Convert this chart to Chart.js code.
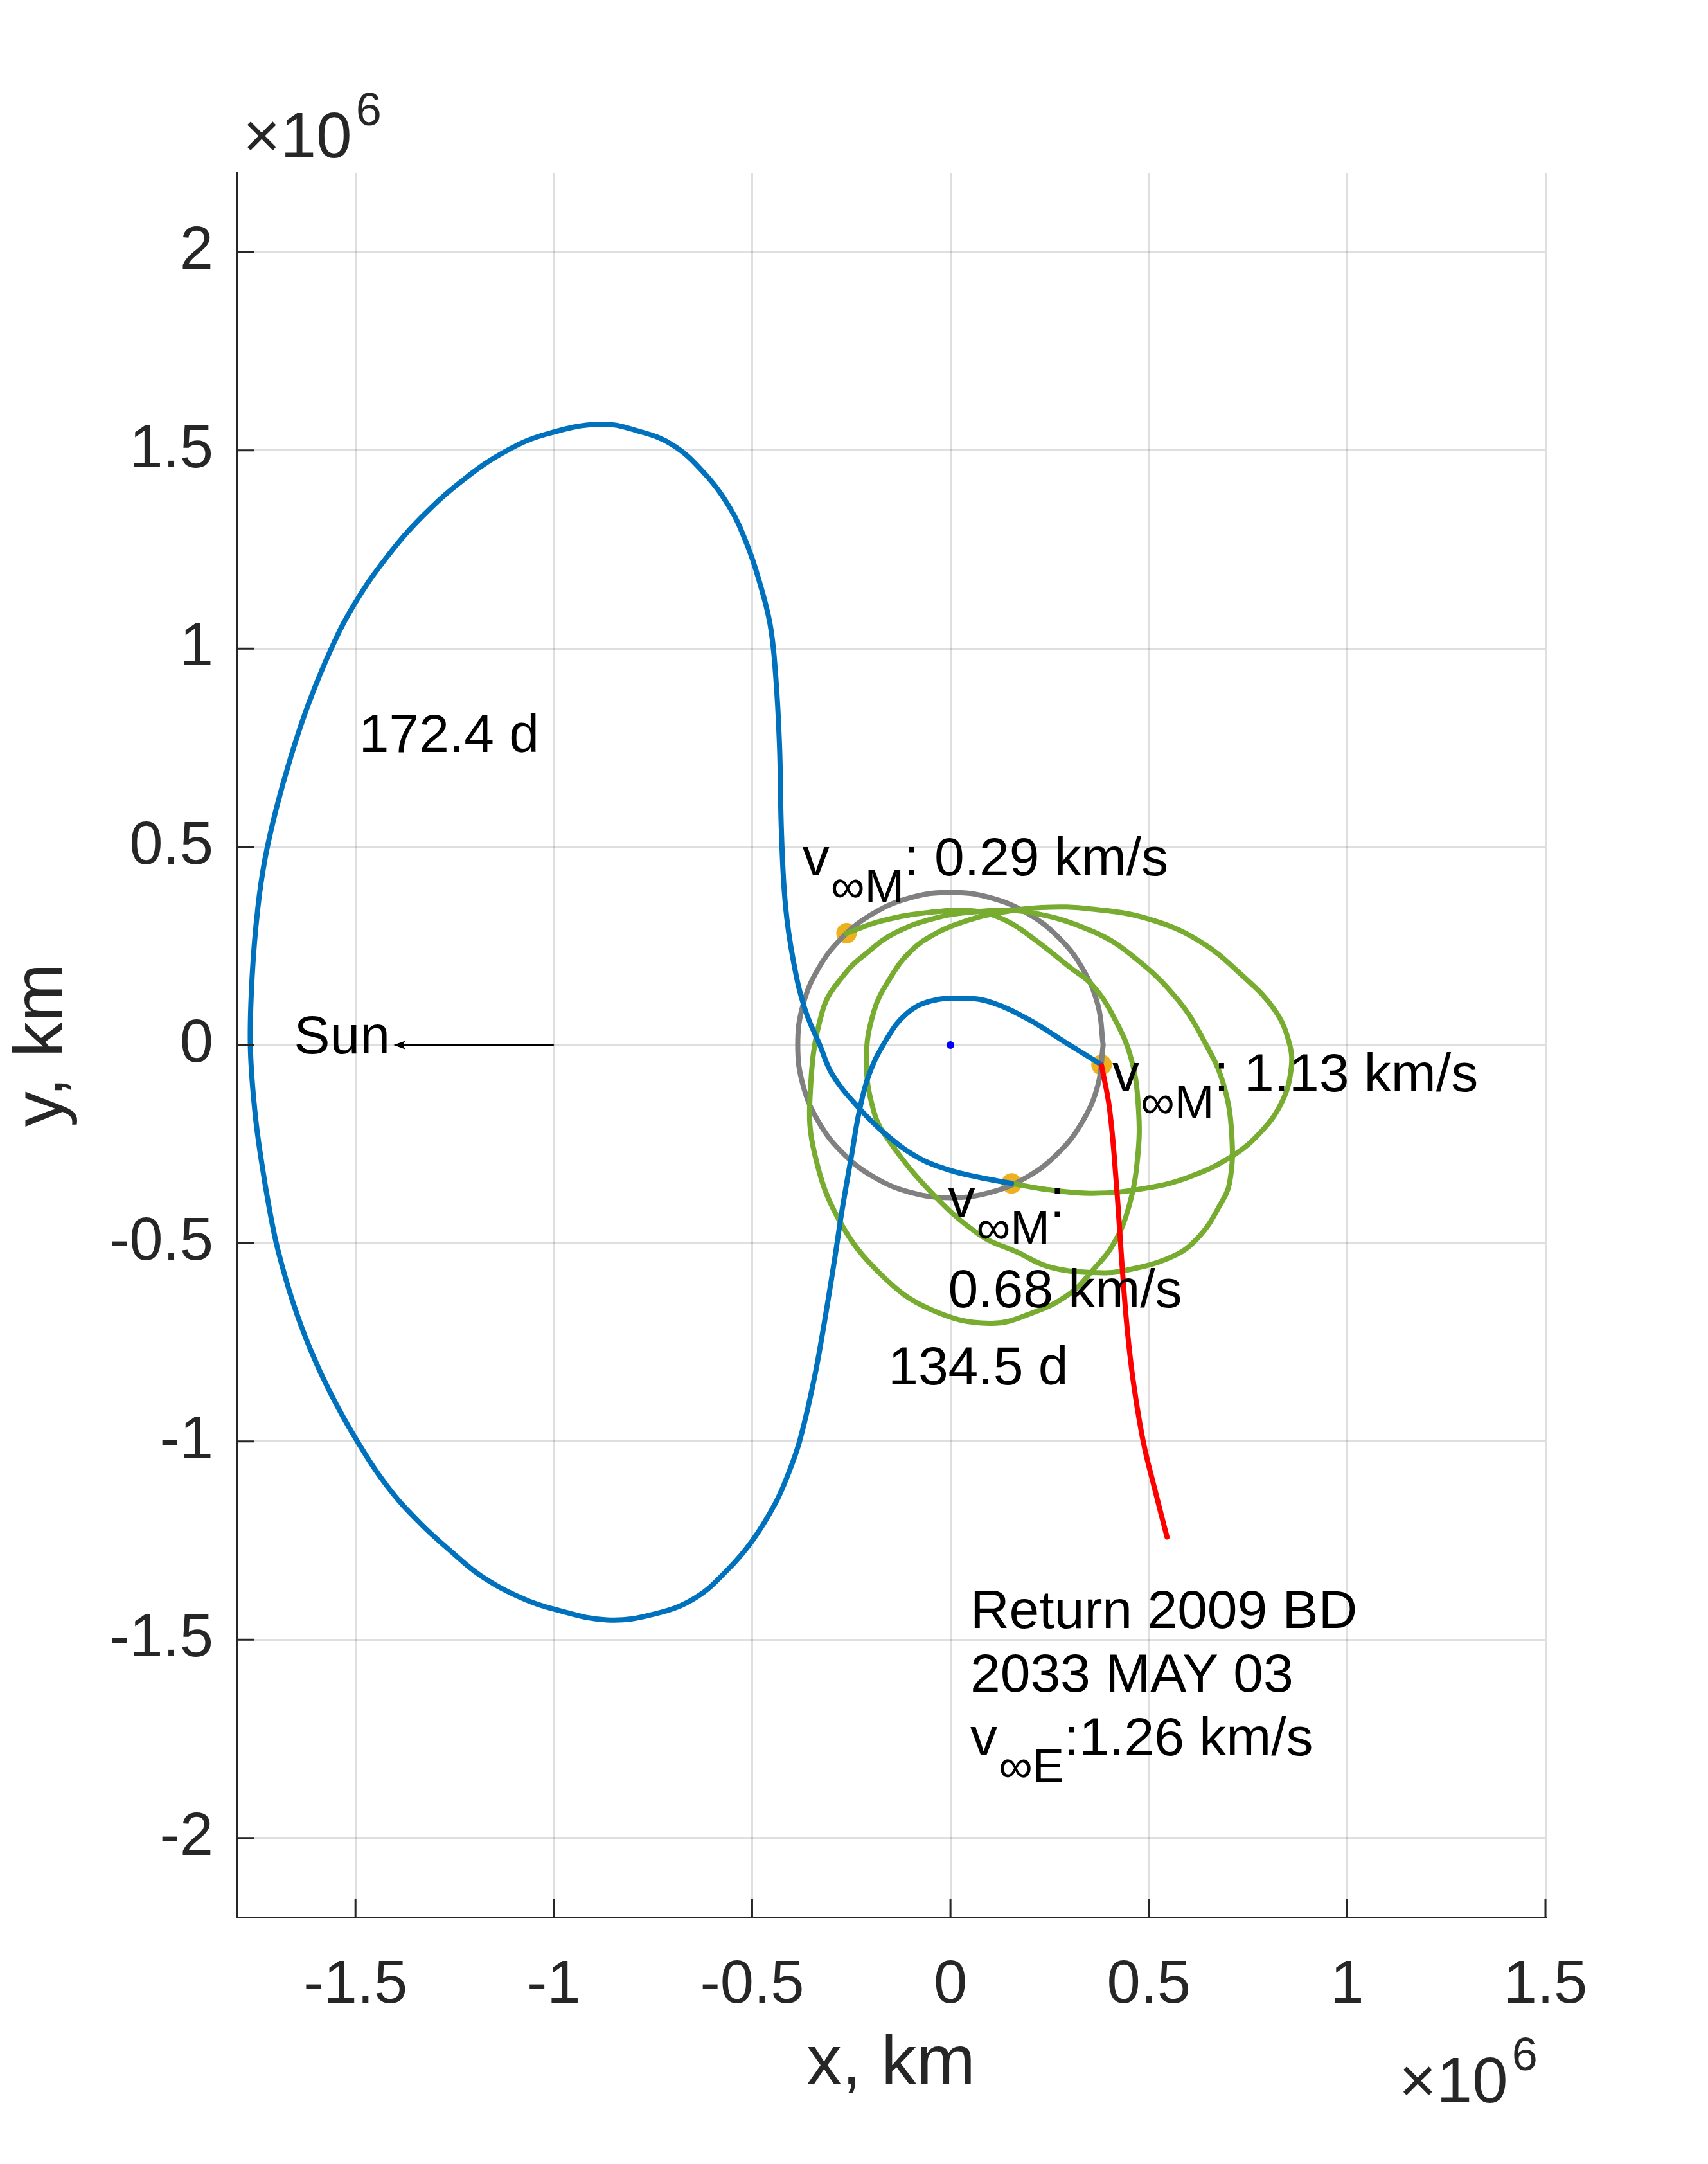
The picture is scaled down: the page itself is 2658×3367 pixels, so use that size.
<!DOCTYPE html>
<html>
<head>
<meta charset="utf-8">
<style>
  html, body { margin: 0; padding: 0; background: #fff; }
  #wrap { width: 2658px; height: 3367px; }
</style>
<script src="https://cdn.jsdelivr.net/npm/chart.js@4.4.0/dist/chart.umd.min.js"></script>
</head>
<body>
<div id="wrap"><canvas id="orbit"></canvas></div>
<script>
// all coordinates in units of 10^6 km, Mars at the origin
const xTicks = [-1.5, -1, -0.5, 0, 0.5, 1, 1.5];
const yTicks = [-2, -1.5, -1, -0.5, 0, 0.5, 1, 1.5, 2];

// blue transfer arc: Mars -> big loop round the Sun side -> back to Mars
const transferArc = [
  [0.378,-0.048],[0.291,0.006],[0.198,0.064],[0.105,0.107],[0.037,0.118],
  [-0.050,0.111],[-0.112,0.078],[-0.162,0.013],[-0.205,-0.074],[-0.230,-0.168],
  [-0.249,-0.276],[-0.274,-0.421],[-0.292,-0.540],[-0.323,-0.730],[-0.345,-0.849],
  [-0.380,-0.998],[-0.409,-1.082],[-0.442,-1.157],[-0.500,-1.251],[-0.563,-1.325],
  [-0.644,-1.395],[-0.745,-1.435],[-0.866,-1.450],[-1.000,-1.423],[-1.081,-1.395],
  [-1.182,-1.340],[-1.257,-1.279],[-1.338,-1.205],[-1.419,-1.114],[-1.501,-0.990],
  [-1.565,-0.874],[-1.614,-0.767],[-1.657,-0.651],[-1.695,-0.519],[-1.716,-0.419],
  [-1.738,-0.287],[-1.754,-0.163],[-1.765,0.000],[-1.760,0.181],[-1.746,0.347],
  [-1.728,0.470],[-1.700,0.595],[-1.663,0.727],[-1.619,0.859],[-1.560,1.002],
  [-1.501,1.115],[-1.420,1.232],[-1.331,1.334],[-1.229,1.425],[-1.121,1.498],
  [-1.019,1.541],[-0.882,1.566],[-0.788,1.549],[-0.701,1.514],[-0.622,1.444],
  [-0.556,1.355],[-0.513,1.263],[-0.484,1.177],[-0.455,1.063],[-0.441,0.937],
  [-0.431,0.756],[-0.426,0.534],[-0.416,0.353],[-0.396,0.212],[-0.367,0.091],
  [-0.329,-0.001],[-0.298,-0.074],[-0.236,-0.153],[-0.162,-0.226],[-0.081,-0.284],
  [-0.001,-0.316],[0.074,-0.334],[0.154,-0.349]
];

// green loops around Mars
const marsLoops = [
  [-0.262,0.282],[-0.174,0.313],[-0.050,0.335],[0.061,0.338],[0.140,0.314],
  [0.210,0.268],[0.304,0.194],[0.358,0.151],[0.412,0.070],[0.456,-0.036],
  [0.474,-0.160],[0.472,-0.283],[0.450,-0.407],[0.412,-0.500],[0.358,-0.569],
  [0.300,-0.628],[0.211,-0.674],[0.099,-0.702],[-0.050,-0.667],[-0.174,-0.580],
  [-0.280,-0.443],[-0.342,-0.276],[-0.354,-0.130],[-0.323,0.085],[-0.267,0.179],
  [-0.205,0.237],[-0.143,0.281],[-0.050,0.317],[0.060,0.336],[0.196,0.335],
  [0.358,0.287],[0.466,0.219],[0.574,0.113],[0.644,0.002],[0.688,-0.098],
  [0.709,-0.222],[0.704,-0.346],[0.677,-0.408],[0.628,-0.482],[0.563,-0.532],
  [0.439,-0.569],[0.358,-0.574],[0.250,-0.560],[0.167,-0.522],[0.074,-0.479],
  [-0.050,-0.370],[-0.156,-0.240],[-0.193,-0.168],[-0.212,-0.038],[-0.193,0.085],
  [-0.150,0.172],[-0.100,0.237],[-0.038,0.281],[0.030,0.310],[0.102,0.330],
  [0.230,0.347],[0.358,0.343],[0.500,0.318],[0.628,0.262],[0.736,0.175],
  [0.817,0.089],[0.855,0.002],[0.858,-0.067],[0.834,-0.147],[0.780,-0.222],
  [0.704,-0.284],[0.601,-0.333],[0.493,-0.361],[0.358,-0.374],[0.240,-0.364],
  [0.154,-0.349]
];

// red: return leg towards 2009 BD
const returnLeg = [
  [0.381,-0.052],[0.401,-0.160],[0.418,-0.346],[0.434,-0.574],[0.446,-0.720],
  [0.461,-0.849],[0.486,-1.000],[0.515,-1.120],[0.546,-1.241]
];

// grey: Mars sphere of influence
const soiCircle = [
  [0.385,0],[0.372,0.100],[0.333,0.193],[0.272,0.272],[0.193,0.333],[0.100,0.372],
  [0,0.385],[-0.100,0.372],[-0.193,0.333],[-0.272,0.272],[-0.333,0.193],[-0.372,0.100],
  [-0.385,0],[-0.372,-0.100],[-0.333,-0.193],[-0.272,-0.272],[-0.193,-0.333],[-0.100,-0.372],
  [0,-0.385],[0.100,-0.372],[0.193,-0.333],[0.272,-0.272],[0.333,-0.193],[0.372,-0.100],
  [0.385,0]
];

const vinfPoints = [[-0.262,0.282],[0.381,-0.050],[0.154,-0.349]];
const marsCentre = [[0,0]];

// text labels: anchor = baseline-left of first line (data coords)
const notes = [
  { at: [-1.491, 0.739], lines: ['172.4 d'] },
  { at: [-1.655, -0.021], lines: ['Sun'] },
  { at: [-0.373, 0.428], lines: ['v_{∞M}: 0.29 km/s'] },
  { at: [0.408, -0.117], lines: ['v_{∞M}: 1.13 km/s'] },
  { at: [-0.006, -0.433], lines: ['v_{∞M}:', '0.68 km/s'], gap: 141 },
  { at: [-0.157, -0.856], lines: ['134.5 d'] },
  { at: [0.050, -1.470], lines: ['Return 2009 BD', '2033 MAY 03', 'v_{∞E}:1.26 km/s'], gap: 99 }
];
const sunArrow = { from: [-1.0, 0], to: [-1.404, 0] };

const FONT = '"Liberation Sans", Arial, Helvetica, sans-serif';
const AXIS = '#262626';
const LINE_W = 8;
const pts = a => a.map(([x, y]) => ({ x, y }));

Chart.defaults.font.family = FONT;

const curve = (data, color, order) => ({
  type: 'line', data: pts(data), borderColor: color, borderWidth: LINE_W,
  pointRadius: 0, tension: 0.4, fill: false, showLine: true,
  borderJoinStyle: 'round', borderCapStyle: 'round', order
});
const dots = (data, color, r, order) => ({
  type: 'scatter', data: pts(data), showLine: false, pointRadius: r,
  pointBackgroundColor: color, pointBorderWidth: 0, backgroundColor: color, order
});

function drawRich(ctx, str, x, y) {
  for (const p of str.split(/(_\{[^}]*\})/)) {
    if (!p) continue;
    if (p.startsWith('_{')) {
      const s = p.slice(2, -1);
      ctx.font = '74px ' + FONT;
      ctx.fillText(s, x + 2, y + 42);
      x += ctx.measureText(s).width + 2;
    } else {
      ctx.font = '84px ' + FONT;
      ctx.fillText(p, x, y);
      x += ctx.measureText(p).width;
    }
  }
}

const overlay = {
  id: 'overlay',
  afterDraw(chart) {
    const { ctx, chartArea: a, scales: { x, y } } = chart;
    ctx.save();
    // inward tick marks, like MATLAB
    ctx.strokeStyle = AXIS;
    ctx.lineWidth = 3;
    ctx.beginPath();
    x.ticks.forEach(t => {
      const px = x.getPixelForValue(t.value);
      ctx.moveTo(px, a.bottom); ctx.lineTo(px, a.bottom - 28);
    });
    y.ticks.forEach(t => {
      const py = y.getPixelForValue(t.value);
      ctx.moveTo(a.left, py); ctx.lineTo(a.left + 28, py);
    });
    ctx.stroke();

    // x10^6 exponent labels
    ctx.fillStyle = AXIS;
    ctx.textBaseline = 'alphabetic';
    ctx.textAlign = 'left';
    const expo = (x0, base) => {
      ctx.font = '100px ' + FONT;
      ctx.fillText('×10', x0, base);
      const w = ctx.measureText('×10').width;
      ctx.font = '72px ' + FONT;
      ctx.fillText('6', x0 + w + 6, base - 50);
    };
    expo(a.left + 10, a.top - 24);
    expo(a.right - 228, a.bottom + 288);

    // annotations
    ctx.fillStyle = '#000';
    notes.forEach(n => {
      const px = x.getPixelForValue(n.at[0]);
      let py = y.getPixelForValue(n.at[1]);
      n.lines.forEach(line => { drawRich(ctx, line, px, py); py += n.gap || 99; });
    });

    // arrow pointing to the Sun
    const x1 = x.getPixelForValue(sunArrow.from[0]), y1 = y.getPixelForValue(sunArrow.from[1]);
    const x2 = x.getPixelForValue(sunArrow.to[0]), y2 = y.getPixelForValue(sunArrow.to[1]);
    ctx.strokeStyle = '#000';
    ctx.lineWidth = 2.7;
    ctx.beginPath(); ctx.moveTo(x1, y1); ctx.lineTo(x2 + 10, y2); ctx.stroke();
    ctx.beginPath();
    ctx.moveTo(x2, y2); ctx.lineTo(x2 + 18, y2 - 6.5); ctx.lineTo(x2 + 15, y2); ctx.lineTo(x2 + 18, y2 + 6.5);
    ctx.closePath(); ctx.fillStyle = '#000'; ctx.fill();
    ctx.restore();
  }
};

const gridOpts = { color: 'rgba(38,38,38,0.15)', lineWidth: 3, drawTicks: false };
const borderOpts = { display: true, color: AXIS, width: 3 };

new Chart(document.getElementById('orbit'), {
  type: 'scatter',
  data: {
    datasets: [
      dots(marsCentre, '#0000FF', 6, 0),
      curve(returnLeg, '#FF0000', 1),
      curve(transferArc, '#0072BD', 2),
      curve(marsLoops, '#77AC30', 3),
      curve(soiCircle, '#808080', 4),
      dots(vinfPoints, '#EDB120', 16, 5)
    ]
  },
  options: {
    responsive: true,
    maintainAspectRatio: false,
    animation: false,
    events: [],
    layout: { padding: { left: 0, top: 269, right: 253, bottom: 0 } },
    plugins: { legend: { display: false }, tooltip: { enabled: false } },
    scales: {
      x: {
        type: 'linear', min: -1.8, max: 1.5,
        afterBuildTicks: s => { s.ticks = xTicks.map(v => ({ value: v })); },
        afterFit: s => { s.height = 384; },
        grid: gridOpts, border: borderOpts,
        ticks: { autoSkip: false, maxRotation: 0, padding: 51, color: AXIS,
                 font: { size: 94 }, callback: v => String(v) },
        title: { display: true, text: 'x, km', color: AXIS, font: { size: 110 },
                 padding: { top: 0, bottom: 88 } }
      },
      y: {
        type: 'linear', min: -2.2, max: 2.2,
        afterBuildTicks: s => { s.ticks = yTicks.map(v => ({ value: v })); },
        afterFit: s => { s.width = 368; },
        grid: gridOpts, border: borderOpts,
        ticks: { autoSkip: false, padding: 36, color: AXIS,
                 font: { size: 94 }, callback: v => String(v) },
        title: { display: true, text: 'y, km', color: AXIS, font: { size: 110 },
                 padding: { top: 1, bottom: 0 } }
      }
    }
  },
  plugins: [overlay]
});
</script>
</body>
</html>
